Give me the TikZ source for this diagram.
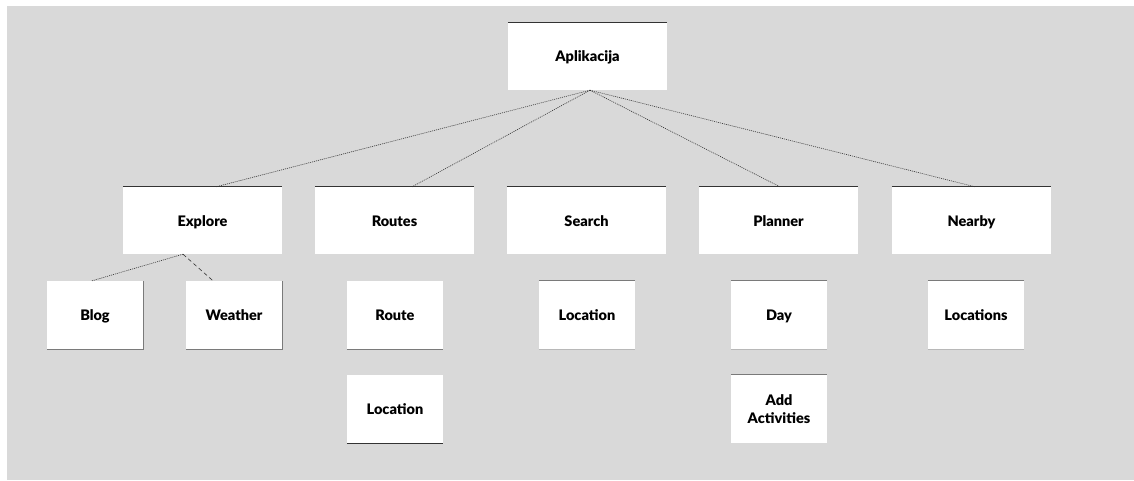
\documentclass[tikz,border=0pt]{standalone}
\usepackage{fontspec}
\setmainfont{Lato}[BoldFont={Lato Black}]
\usepackage{tikz}
\usepackage{xcolor}

\definecolor{canvas}{HTML}{D9D9D9}
\definecolor{rule}{HTML}{333333}
\definecolor{softrule}{HTML}{7A7A7A}
\definecolor{faintrule}{HTML}{B8B8B8}

\tikzset{
  oneline/.style={text height=13pt, text depth=2pt},
  bigbox/.style={fill=white, minimum width=159pt, minimum height=67pt, inner sep=0pt,
    oneline, font=\fontsize{14.5}{18}\selectfont\bfseries},
  smallbox/.style={fill=white, minimum width=96pt, minimum height=68pt, inner sep=0pt,
    align=center, font=\fontsize{14.5}{18}\selectfont\bfseries},
  link/.style={draw=rule, line width=0.6pt, dash pattern=on 1pt off 1pt},
  dashlink/.style={draw=rule, line width=0.6pt, dash pattern=on 4pt off 3pt}
}

\begin{document}
\begin{tikzpicture}[x=1pt,y=-1pt]
\useasboundingbox (0,0) rectangle (1134,481);
\fill [canvas] (7,6) rectangle (1134,480);

% top
\node [bigbox] (app) at (587.5,56.5) {Aplikacija};

% second row
\node [bigbox] (explore) at (202.5,220.5) {Explore};
\node [bigbox] (routes) at (394.5,220.5) {Routes};
\node [bigbox] (search) at (586.5,220.5) {Search};
\node [bigbox] (planner) at (778.5,220.5) {Planner};
\node [bigbox] (nearby) at (971.5,220.5) {Nearby};

% third row
\node [smallbox, oneline] (blog) at (95,315) {Blog};
\node [smallbox, oneline] (weather) at (234,315) {Weather};
\node [smallbox, oneline] (route) at (395,315) {Route};
\node [smallbox, oneline] (slocation) at (587,315) {Location};
\node [smallbox, oneline] (day) at (779,315) {Day};
\node [smallbox, oneline] (locations) at (976,315) {Locations};

% fourth row
\node [smallbox, oneline] (rlocation) at (395,409) {Location};
\node [smallbox] (activities) at (779,409) {Add\\Activities};

% rules on the boxes
\foreach \b in {app,explore,routes,search,planner,nearby}
  \draw [rule, line width=1.2pt] (\b.north west) -- (\b.north east);
\foreach \b in {blog,weather}
  \draw [softrule, line width=1.2pt] (\b.north east) -- (\b.south east) -- (\b.south west);
\draw [softrule, line width=1.2pt] (route.south west) -- (route.south east);
\draw [rule, line width=1.2pt] (rlocation.south west) -- (rlocation.south east);
\foreach \b in {slocation,day,locations,activities}
  \draw [softrule, line width=1.2pt] (\b.north west) -- (\b.north east);
\foreach \b in {slocation,day,locations}
  \draw [faintrule, line width=1pt] (\b.south west) -- (\b.south east);

% connectors
\draw [link] ([xshift=2.5pt]app.south) -- ([xshift=13.5pt]explore.north);
\draw [link] ([xshift=2.5pt]app.south) -- ([xshift=17.5pt]routes.north);
\draw [link] ([xshift=2.5pt]app.south) -- ([xshift=1.5pt]planner.north);
\draw [link] ([xshift=2.5pt]app.south) -- ([xshift=3.5pt]nearby.north);
\draw [link] ([xshift=-19.5pt]explore.south) -- ([xshift=-3pt]blog.north);
\draw [dashlink] ([xshift=-19.5pt]explore.south) -- ([xshift=-21pt]weather.north);
\end{tikzpicture}
\end{document}
